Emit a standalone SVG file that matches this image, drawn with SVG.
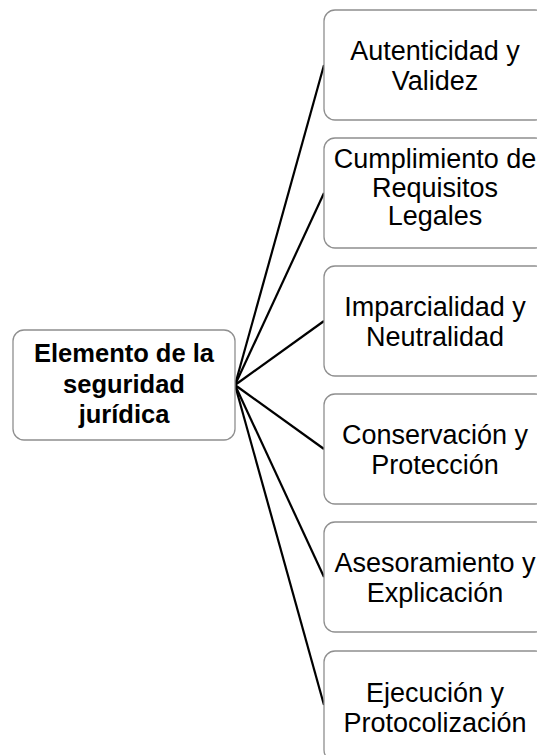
<svg xmlns="http://www.w3.org/2000/svg" width="537" height="755" viewBox="0 0 537 755">
<style>
.box{fill:#ffffff;stroke:#8f8f8f;stroke-width:1.3}
.t{font-family:"Liberation Sans",Arial,sans-serif;font-size:27px;fill:#000;text-anchor:middle}
.b{font-family:"Liberation Sans",Arial,sans-serif;font-size:25.5px;font-weight:bold;fill:#000;text-anchor:middle}
.c{stroke:#000;stroke-width:2.2;fill:none}
</style>
<rect width="537" height="755" fill="#ffffff"/>
<g id="connectors">
<line class="c" x1="235" y1="385" x2="324" y2="65"/>
<line class="c" x1="235" y1="385" x2="324" y2="193"/>
<line class="c" x1="235" y1="385" x2="324" y2="321"/>
<line class="c" x1="235" y1="385" x2="324" y2="449"/>
<line class="c" x1="235" y1="385" x2="324" y2="577"/>
<line class="c" x1="235" y1="385" x2="324" y2="705"/>
</g>
<g id="root">
<rect class="box" x="13" y="330" width="222" height="110" rx="11"/>
<text class="b" x="124" y="362">Elemento de la</text>
<text class="b" x="124" y="393">seguridad</text>
<text class="b" x="124" y="423">jurídica</text>
</g>
<g id="n1">
<rect class="box" x="324" y="10" width="222" height="110" rx="11"/>
<text class="t" x="435" y="60">Autenticidad y</text>
<text class="t" x="435" y="90">Validez</text>
</g>
<g id="n2">
<rect class="box" x="324" y="138" width="222" height="110" rx="11"/>
<text class="t" x="435" y="168">Cumplimiento de</text>
<text class="t" x="435" y="197">Requisitos</text>
<text class="t" x="435" y="225">Legales</text>
</g>
<g id="n3">
<rect class="box" x="324" y="266" width="222" height="110" rx="11"/>
<text class="t" x="435" y="316">Imparcialidad y</text>
<text class="t" x="435" y="346">Neutralidad</text>
</g>
<g id="n4">
<rect class="box" x="324" y="394" width="222" height="110" rx="11"/>
<text class="t" x="435" y="444">Conservación y</text>
<text class="t" x="435" y="474">Protección</text>
</g>
<g id="n5">
<rect class="box" x="324" y="522" width="222" height="110" rx="11"/>
<text class="t" x="435" y="572">Asesoramiento y</text>
<text class="t" x="435" y="602">Explicación</text>
</g>
<g id="n6">
<rect class="box" x="324" y="651" width="222" height="110" rx="11"/>
<text class="t" x="435" y="702">Ejecución y</text>
<text class="t" x="435" y="732">Protocolización</text>
</g>
</svg>
